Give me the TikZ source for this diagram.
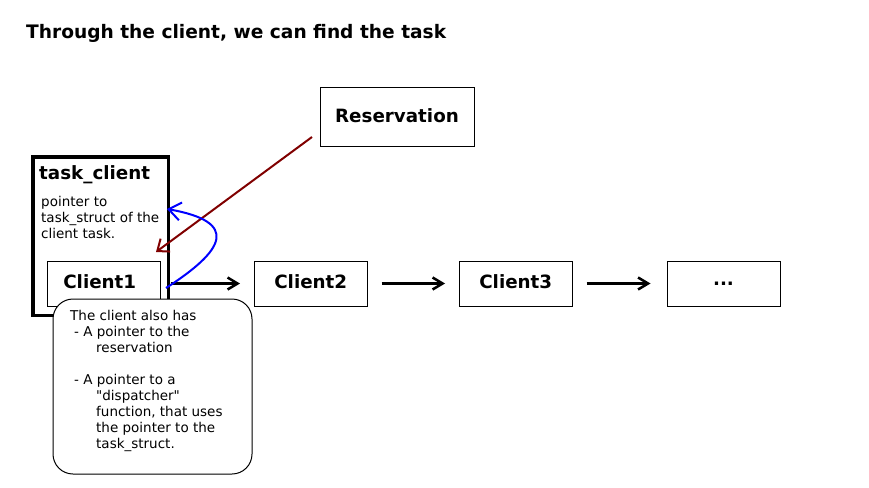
\documentclass[tikz,border=0pt]{standalone}
\usepackage{fontspec}
\setmainfont{DejaVu Sans}
\newfontfamily\plainfont{DejaVu Sans}
\usetikzlibrary{arrows.meta}
\definecolor{darkred}{HTML}{800000}
\begin{document}
\begin{tikzpicture}[x=1pt,y=-1pt,
  box/.style={draw, line width=1pt, inner sep=0pt, text height=13.1pt, text depth=4pt,
    font=\fontsize{18.3}{22}\selectfont\bfseries},
  small/.style={inner sep=0pt, anchor=north west, align=left,
    font=\fontsize{13.5}{16}\selectfont},
  arr/.style={line width=2.5pt, -{Straight Barb[length=10pt,width=12pt]}}]
\useasboundingbox (0,0) rectangle (869,487);

% title
\node[anchor=base west, inner sep=0pt, font=\fontsize{18.6}{22}\selectfont\bfseries]
  (title) at (26,39) {Through the client, we can find the task};

% reservation
\node[box, text depth=2pt, minimum width=154pt, minimum height=58.7pt] (res) at (397,116.7) {Reservation};

% task_client container
\node[draw, line width=3.5pt, minimum width=135.7pt, minimum height=158.5pt, inner sep=0pt]
  (tc) at (100.85,236.25) {};
\node[anchor=base west, inner sep=0pt, font=\fontsize{18.3}{22}\selectfont\bfseries]
  (tclabel) at (39,179) {task\_client};
\node[small] (tctext) at (41,196.4) {pointer to\\task\_struct of the\\client task.};

% clients
\node[box, minimum width=112.5pt, minimum height=45pt] (c1) at (103.75,283.5) {Client1\hspace*{8pt}};
\node[box, minimum width=112.5pt, minimum height=45pt] (c2) at (310.75,283.5) {Client2};
\node[box, minimum width=112.5pt, minimum height=45pt] (c3) at (515.75,283.5) {Client3};
\node[box, text depth=8.2pt, minimum width=113pt, minimum height=45pt] (c4) at (723.5,283.5) {...};

% arrows between clients
\draw[arr, shorten <=10pt, shorten >=14pt] (c1) -- (c2);
\draw[arr, shorten <=14pt, shorten >=14pt] (c2) -- (c3);
\draw[arr, shorten <=14pt, shorten >=16pt] (c3) -- (c4);

% red arrow from reservation
\coordinate (rs) at (312,137);
\coordinate (re) at (156,252);
\draw[darkred, line width=2pt, -{Straight Barb[length=10pt,width=16pt]}] (rs) -- (re);

% blue curved arrow
\coordinate (bs) at (166,288);
\coordinate (be) at (167,209);
\draw[blue, line width=2pt, -{Straight Barb[length=12pt,width=18pt]}]
  (bs) .. controls (225,250) and (240,222) .. (be);

% callout
\node[draw, fill=white, line width=1pt, rounded corners=20pt, minimum width=199pt,
  minimum height=175pt, inner sep=0pt] (note) at (152.5,386.5) {};
\node[small] (notetext) at (70,309.7) {The client also has\\
\hspace*{4pt}- A pointer to the\\
\hspace*{26pt}reservation\\[16pt]
\hspace*{4pt}- A pointer to a\\
\hspace*{26pt}{\plainfont"}dispatcher{\plainfont"}\\
\hspace*{26pt}function, that uses\\
\hspace*{26pt}the pointer to the\\
\hspace*{26pt}task\_struct.};
\end{tikzpicture}
\end{document}
